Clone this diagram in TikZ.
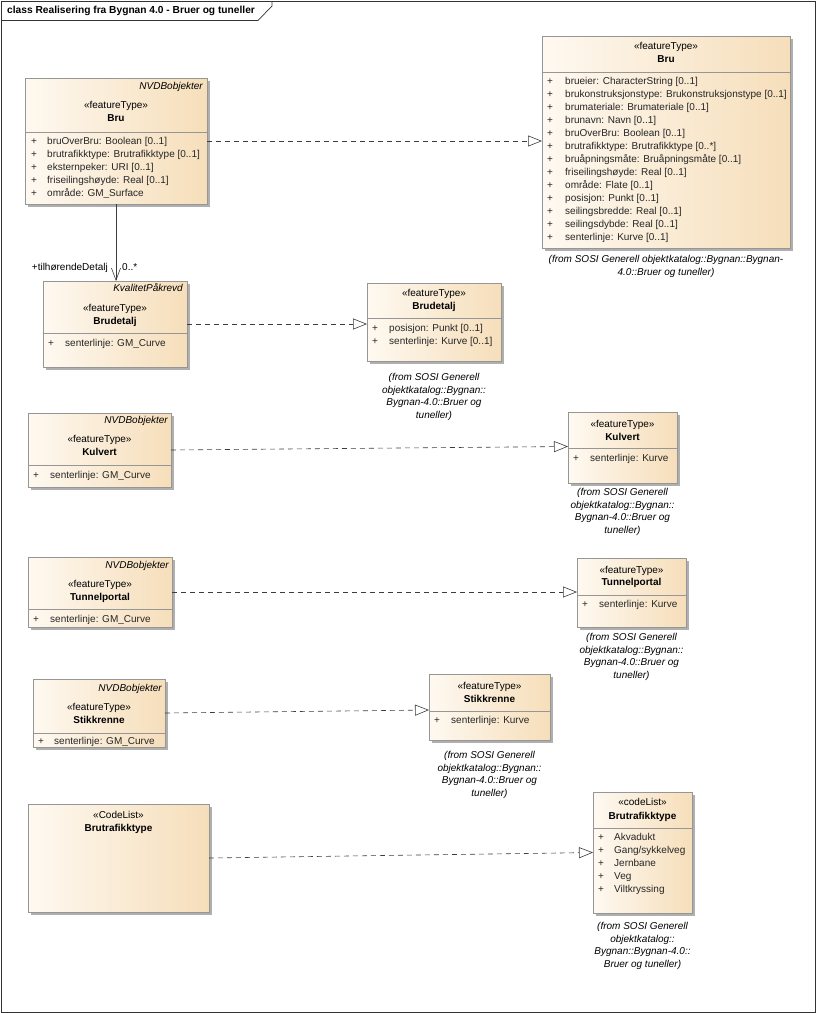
\documentclass[tikz,border=0pt]{standalone}
\usepackage{fontspec}
\setmainfont{Liberation Sans}
\usetikzlibrary{arrows.meta,shadows,calc}
\definecolor{boxL}{RGB}{254,249,241}
\definecolor{boxR}{RGB}{246,222,186}
\definecolor{boxborder}{RGB}{150,150,150}
\definecolor{shadowgray}{RGB}{175,175,175}
\definecolor{linecol}{RGB}{60,60,60}
\newcommand\umlfont{\fontsize{10}{12.7}\selectfont}
\newcommand\umlattrs[5]{%
  \foreach \t [count=\i from 0] in {#5} {%
    \node[attrtxt] (#1p\i) at (#2, {#4+13*\i}) {+};
    \node[attrtxt] (#1a\i) at (#3, {#4+13*\i}) {\t};
  }%
}
\begin{document}
\begin{tikzpicture}[x=1pt,y=-1pt,
  umlbox/.style={draw=boxborder, line width=0.7pt, left color=boxL, right color=boxR,
    drop shadow={shadow xshift=3pt, shadow yshift=-3pt, fill=shadowgray, opacity=1},
    anchor=north west, inner sep=0pt, outer sep=0pt},
  txt/.style={inner sep=0pt, text height=7.2pt, text depth=2.0pt, font=\umlfont},
  attrtxt/.style={txt, anchor=west, text=black!85},
  stereo/.style={txt},
  cname/.style={txt, font=\umlfont\bfseries},
  pkg/.style={txt, anchor=east, font=\umlfont\itshape},
  caption/.style={inner sep=0pt, font=\umlfont\itshape, align=center, anchor=north},
  sep/.style={draw=boxborder, line width=0.6pt},
  real/.style={draw=linecol, line width=0.6pt, dash pattern=on 5pt off 4pt,
    -{Triangle[open, length=14pt, width=11pt, fill=white]}},
  assoc/.style={draw=linecol, line width=0.6pt, -{Straight Barb[length=12pt, width=9pt]}},
  lbl/.style={inner sep=0pt, font=\umlfont, text height=7.2pt, text depth=2.0pt}
]
\useasboundingbox (0,0) rectangle (816,1013);

% frame
\node[draw=black!80, line width=0.7pt, anchor=north west, minimum width=814pt, minimum height=1011pt, inner sep=0pt] (frame) at (1,1) {};
\coordinate (tabA) at (1,20.5);
\coordinate (tabB) at (258,20.5);
\coordinate (tabC) at (272,6);
\coordinate (tabD) at (272,1);
\draw[draw=black!80, line width=0.7pt] (tabA) -- (tabB) -- (tabC) -- (tabD);
\node[txt, anchor=west, font=\fontsize{10.2}{12}\selectfont\bfseries] (title) at (7,11) {class Realisering fra Bygnan 4.0 - Bruer og tuneller};

% ---------- Bru (left)
\node[umlbox, minimum width=182pt, minimum height=126pt] (bruL) at (25,78) {};
\node[pkg] (bruLpkg) at (203,87) {NVDBobjekter};
\node[stereo] (bruLst) at (116,106) {«featureType»};
\node[cname] (bruLnm) at (116,119) {Bru};
\draw[sep] (25,132) -- (207,132);
\umlattrs{bruL}{31}{47}{142}{{bruOverBru: Boolean [0..1]},{brutrafikktype: Brutrafikktype [0..1]},{eksternpeker: URI [0..1]},{friseilingshøyde: Real [0..1]},{område: GM\_Surface}}

% ---------- Bru (right)
\node[umlbox, minimum width=248pt, minimum height=212pt] (bruR) at (542,36) {};
\node[stereo] (bruRst) at (666,47) {«featureType»};
\node[cname] (bruRnm) at (666,60) {Bru};
\draw[sep] (542,72) -- (790,72);
\umlattrs{bruR}{547}{565}{82}{{brueier: CharacterString [0..1]},{brukonstruksjonstype: Brukonstruksjonstype [0..1]},{brumateriale: Brumateriale [0..1]},{brunavn: Navn [0..1]},{bruOverBru: Boolean [0..1]},{brutrafikktype: Brutrafikktype [0..*]},{bruåpningsmåte: Bruåpningsmåte [0..1]},{friseilingshøyde: Real [0..1]},{område: Flate [0..1]},{posisjon: Punkt [0..1]},{seilingsbredde: Real [0..1]},{seilingsdybde: Real [0..1]},{senterlinje: Kurve [0..1]}}
\node[caption] (bruRcap) at (666,255.5) {(from SOSI Generell objektkatalog::Bygnan::Bygnan-\\4.0::Bruer og tuneller)};

% ---------- Brudetalj (left)
\node[umlbox, minimum width=144pt, minimum height=86pt] (brudL) at (43,281) {};
\node[pkg] (brudLpkg) at (183,289) {KvalitetPåkrevd};
\node[stereo] (brudLst) at (115,309) {«featureType»};
\node[cname] (brudLnm) at (115,322) {Brudetalj};
\draw[sep] (43,333) -- (187,333);
\umlattrs{brudL}{48}{65}{344}{{senterlinje: GM\_Curve}}

% ---------- Brudetalj (right)
\node[umlbox, minimum width=134pt, minimum height=78pt] (brudR) at (367,283) {};
\node[stereo] (brudRst) at (434,294) {«featureType»};
\node[cname] (brudRnm) at (434,307) {Brudetalj};
\draw[sep] (367,318) -- (501,318);
\umlattrs{brudR}{372}{389}{329}{{posisjon: Punkt [0..1]},{senterlinje: Kurve [0..1]}}
\node[caption] (brudRcap) at (434,373) {(from SOSI Generell\\objektkatalog::Bygnan::\\Bygnan-4.0::Bruer og\\tuneller)};

% ---------- Kulvert (left)
\node[umlbox, minimum width=143pt, minimum height=74pt] (kulL) at (28,413) {};
\node[pkg] (kulLpkg) at (168,421) {NVDBobjekter};
\node[stereo] (kulLst) at (99.5,440) {«featureType»};
\node[cname] (kulLnm) at (99.5,453) {Kulvert};
\draw[sep] (28,465) -- (171,465);
\umlattrs{kulL}{33}{50}{476}{{senterlinje: GM\_Curve}}

% ---------- Kulvert (right)
\node[umlbox, minimum width=109pt, minimum height=71pt] (kulR) at (568,412) {};
\node[stereo] (kulRst) at (622.5,425) {«featureType»};
\node[cname] (kulRnm) at (622.5,438) {Kulvert};
\draw[sep] (568,448) -- (677,448);
\umlattrs{kulR}{573}{590}{459}{{senterlinje: Kurve}}
\node[caption] (kulRcap) at (622.5,488) {(from SOSI Generell\\objektkatalog::Bygnan::\\Bygnan-4.0::Bruer og\\tuneller)};

% ---------- Tunnelportal (left)
\node[umlbox, minimum width=144pt, minimum height=70pt] (tunL) at (28,557) {};
\node[pkg] (tunLpkg) at (169,566) {NVDBobjekter};
\node[stereo] (tunLst) at (100,585) {«featureType»};
\node[cname] (tunLnm) at (100,598) {Tunnelportal};
\draw[sep] (28,609) -- (172,609);
\umlattrs{tunL}{33}{50}{620}{{senterlinje: GM\_Curve}}

% ---------- Tunnelportal (right)
\node[umlbox, minimum width=109pt, minimum height=69pt] (tunR) at (577,558) {};
\node[stereo] (tunRst) at (631.5,571) {«featureType»};
\node[cname] (tunRnm) at (631.5,583) {Tunnelportal};
\draw[sep] (577,595) -- (686,595);
\umlattrs{tunR}{582}{599}{605}{{senterlinje: Kurve}}
\node[caption] (tunRcap) at (631.5,633) {(from SOSI Generell\\objektkatalog::Bygnan::\\Bygnan-4.0::Bruer og\\tuneller)};

% ---------- Stikkrenne (left)
\node[umlbox, minimum width=132pt, minimum height=68pt] (stikL) at (33,679) {};
\node[pkg] (stikLpkg) at (162,689) {NVDBobjekter};
\node[stereo] (stikLst) at (99,708) {«featureType»};
\node[cname] (stikLnm) at (99,721) {Stikkrenne};
\draw[sep] (33,733) -- (165,733);
\umlattrs{stikL}{38}{54}{742}{{senterlinje: GM\_Curve}}

% ---------- Stikkrenne (right)
\node[umlbox, minimum width=121pt, minimum height=66pt] (stikR) at (429,674) {};
\node[stereo] (stikRst) at (489.5,687) {«featureType»};
\node[cname] (stikRnm) at (489.5,700) {Stikkrenne};
\draw[sep] (429,711) -- (550,711);
\umlattrs{stikR}{434}{451}{721}{{senterlinje: Kurve}}
\node[caption] (stikRcap) at (489.5,751) {(from SOSI Generell\\objektkatalog::Bygnan::\\Bygnan-4.0::Bruer og\\tuneller)};

% ---------- Brutrafikktype (left)
\node[umlbox, minimum width=181pt, minimum height=108pt] (blL) at (28,804) {};
\node[stereo] (blLst) at (118.5,816) {«CodeList»};
\node[cname] (blLnm) at (118.5,829) {Brutrafikktype};

% ---------- Brutrafikktype (right)
\node[umlbox, minimum width=99pt, minimum height=121pt] (blR) at (593,792) {};
\node[stereo] (blRst) at (642.5,803) {«codeList»};
\node[cname] (blRnm) at (642.5,817) {Brutrafikktype};
\draw[sep] (593,828) -- (692,828);
\umlattrs{blR}{598}{614}{838}{{Akvadukt},{Gang/sykkelveg},{Jernbane},{Veg},{Viltkryssing}}
\node[caption] (blRcap) at (642.5,922) {(from SOSI Generell\\objektkatalog::\\Bygnan::Bygnan-4.0::\\Bruer og tuneller)};

% ---------- connectors
\draw[real] (bruL) -- (bruL -| bruR.west);
\draw[real] (brudL) -- (brudL -| brudR.west);
\draw[real] (kulL.east) -- ($(kulR.west)+(0,-1)$);
\draw[real] (tunL) -- (tunL -| tunR.west);
\draw[real] (stikL.east) -- ($(stikR.west)+(0,3)$);
\draw[real] (blL.east) -- (blR.west);
\draw[assoc] (bruL.south) -- (bruL.south |- brudL.north);
\node[lbl, anchor=east] (roleLbl) at (108,268) {+tilhørendeDetalj};
\node[lbl, anchor=west] (multLbl) at (122,268) {0..*};
\end{tikzpicture}
\end{document}
